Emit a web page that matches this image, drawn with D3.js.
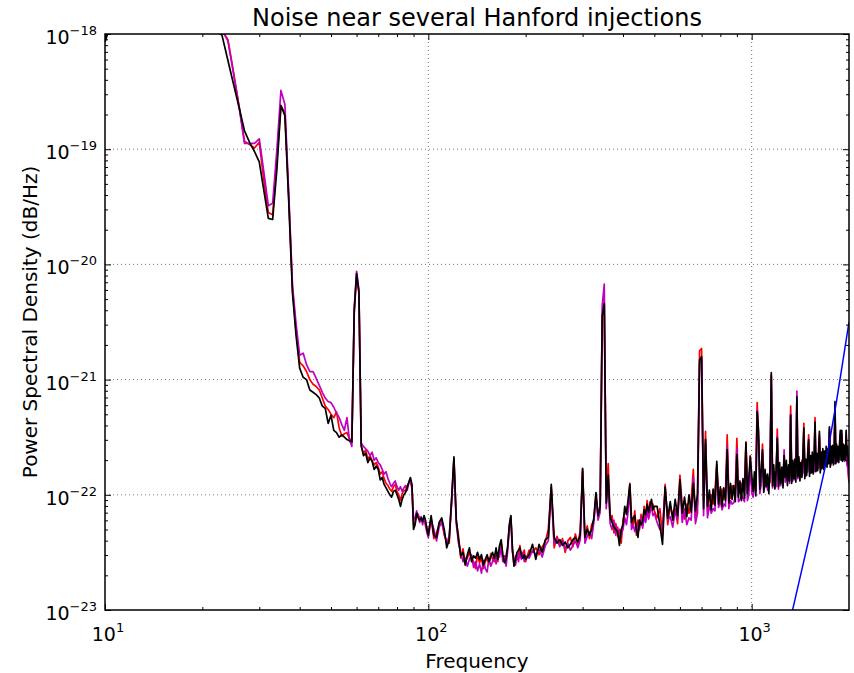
<!DOCTYPE html>
<html>
<head>
<meta charset="utf-8">
<script src="https://cdn.jsdelivr.net/npm/d3@7"></script>
<style>
  body { margin: 0; background: #fff; }
  svg { display: block; }
  text { font-family: "DejaVu Sans", sans-serif; fill: #000; }
</style>
</head>
<body>
<svg id="chart" width="854" height="673"></svg>
<script>
// Frequency bins (Hz): 1 Hz to 100, 2 Hz to 200, 5 Hz to 500, 10 Hz to 2000
const freqs = [].concat(
  d3.range(10, 101, 1),
  d3.range(102, 201, 2),
  d3.range(205, 501, 5),
  d3.range(510, 2001, 10)
);

// log10 of power spectral density, one value per frequency bin
const psdRedLog = [
  -18.05,-17.68,-17.53,-17.48,-17.50,-17.54,-17.60,-17.66,-17.72,-17.78,
  -17.84,-17.90,-17.94,-17.97,-18.05,-18.34,-18.63,-18.93,-18.96,-18.99,
  -18.94,-19.27,-19.55,-19.57,-19.10,-18.63,-18.68,-19.42,-20.21,-20.58,
  -20.85,-20.88,-20.93,-21.00,-21.04,-21.06,-21.09,-21.16,-21.23,-21.26,
  -21.30,-21.33,-21.28,-21.42,-21.49,-21.47,-21.46,-21.51,-21.54,-20.42,
  -20.09,-20.25,-21.58,-21.64,-21.61,-21.69,-21.66,-21.70,-21.74,-21.72,
  -21.76,-21.82,-21.80,-21.86,-21.90,-21.92,-21.95,-21.97,-21.93,-21.91,
  -21.97,-22.00,-22.05,-21.99,-21.96,-21.97,-21.92,-21.90,-21.87,-21.95,
  -22.26,-22.24,-22.18,-22.17,-22.21,-22.23,-22.21,-22.20,-22.25,-22.28,
  -22.33,
  -22.20,-22.38,-22.33,-22.26,-22.22,-22.35,-22.40,-22.42,-22.06,-21.69,
  -22.23,-22.36,-22.55,-22.47,-22.58,-22.55,-22.50,-22.55,-22.58,-22.64,
  -22.52,-22.59,-22.55,-22.64,-22.58,-22.55,-22.60,-22.51,-22.56,-22.58,
  -22.52,-22.58,-22.46,-22.42,-22.55,-22.56,-22.52,-22.46,-22.28,-22.19,
  -22.48,-22.60,-22.53,-22.55,-22.51,-22.44,-22.55,-22.52,-22.48,-22.58,
  -22.48,-22.50,-22.46,-22.52,-22.45,-22.41,-22.30,-21.93,-22.46,-22.36,
  -22.43,-22.38,-22.50,-22.40,-22.37,-22.45,-22.34,-22.43,-22.31,-21.78,
  -22.40,-22.27,-22.38,-22.26,-22.22,-21.99,-22.20,-22.08,-20.44,-20.33,
  -22.00,-21.73,-22.21,-22.18,-22.33,-22.25,-22.36,-22.30,-22.42,-22.22,
  -22.15,-22.12,-22.08,-21.90,-22.20,-22.28,-22.14,-22.35,-22.22,-22.30,
  -22.17,-22.27,-22.10,-22.22,-22.05,-22.19,-22.06,-22.12,-22.08,-22.14,
  -22.20,-22.12,-22.35,-21.91,-22.26,-22.10,-22.17,-22.12,-22.25,-21.83,
  -22.10,-22.21,-22.08,-22.16,-22.05,-21.78,-22.20,-22.08,-20.75,-20.73,
  -22.05,-21.45,-22.14,-22.02,-22.00,-22.08,-21.96,-21.74,-22.00,-22.06,
  -21.95,-22.04,-21.98,-21.48,-22.00,-22.03,-21.92,-21.98,-21.95,-21.51,
  -21.93,-21.99,-21.90,-21.97,-21.94,-21.54,-21.91,-21.96,-21.66,-21.92,
  -21.88,-21.95,-21.86,-21.20,-21.50,-21.86,-21.92,-21.56,-21.85,-21.90,
  -21.83,-21.92,-21.86,-21.89,-20.96,-21.82,-21.88,-21.80,-21.91,-21.43,
  -21.84,-21.89,-21.79,-21.87,-21.82,-21.70,-21.80,-21.86,-21.77,-21.85,
  -21.78,-21.23,-21.80,-21.84,-21.76,-21.83,-21.74,-21.18,-21.78,-21.82,
  -21.72,-21.81,-21.70,-21.79,-21.38,-21.75,-21.80,-21.72,-21.78,-21.48,
  -21.70,-21.79,-21.68,-21.76,-21.69,-21.77,-21.33,-21.70,-21.75,-21.66,
  -21.74,-21.50,-21.67,-21.72,-21.64,-21.71,-21.65,-21.73,-21.62,-21.70,
  -21.63,-21.71,-21.61,-21.45,-21.64,-21.70,-21.60,-21.69,-21.62,-21.68,
  -21.25,-21.61,-21.67,-21.59,-21.66,-21.60,-21.65,-21.50,-21.60,-21.49,
  -21.62,-21.66,-21.58,-21.66,-21.62,-21.48,-21.70,-21.74,-21.82,-21.90
];

const psdMagentaLog = [
  -18.04,-17.67,-17.52,-17.47,-17.49,-17.53,-17.59,-17.65,-17.71,-17.77,
  -17.83,-17.89,-17.93,-17.96,-18.06,-18.35,-18.64,-18.95,-18.95,-18.95,
  -18.91,-19.20,-19.49,-19.47,-19.01,-18.49,-18.61,-19.38,-20.18,-20.52,
  -20.79,-20.77,-20.87,-20.93,-20.93,-20.99,-21.05,-21.11,-21.16,-21.19,
  -21.20,-21.24,-21.29,-21.33,-21.39,-21.44,-21.33,-21.52,-21.58,-20.38,
  -20.06,-20.22,-21.55,-21.58,-21.60,-21.62,-21.66,-21.63,-21.70,-21.68,
  -21.72,-21.74,-21.78,-21.82,-21.80,-21.86,-21.90,-21.93,-21.90,-21.88,
  -21.93,-21.96,-21.93,-21.97,-21.94,-21.92,-21.96,-21.90,-21.88,-21.93,
  -22.22,-22.20,-22.14,-22.18,-22.24,-22.19,-22.26,-22.20,-22.27,-22.33,
  -22.37,
  -22.22,-22.30,-22.40,-22.28,-22.24,-22.33,-22.42,-22.36,-22.08,-21.70,
  -22.25,-22.42,-22.50,-22.58,-22.55,-22.62,-22.56,-22.52,-22.63,-22.58,
  -22.66,-22.60,-22.68,-22.57,-22.64,-22.67,-22.55,-22.62,-22.58,-22.52,
  -22.60,-22.50,-22.54,-22.45,-22.58,-22.53,-22.62,-22.48,-22.30,-22.20,
  -22.50,-22.57,-22.61,-22.52,-22.58,-22.50,-22.56,-22.50,-22.58,-22.53,
  -22.55,-22.48,-22.52,-22.47,-22.54,-22.44,-22.40,-21.95,-22.42,-22.38,
  -22.45,-22.40,-22.47,-22.42,-22.48,-22.44,-22.40,-22.46,-22.39,-21.80,
  -22.42,-22.36,-22.32,-22.38,-22.24,-22.02,-22.22,-22.15,-20.36,-20.17,
  -22.12,-21.88,-22.25,-22.30,-22.22,-22.35,-22.28,-22.38,-22.34,-22.30,
  -22.20,-22.26,-22.14,-21.95,-22.30,-22.26,-22.32,-22.25,-22.33,-22.28,
  -22.20,-22.29,-22.18,-22.24,-22.14,-22.21,-22.15,-22.10,-22.18,-22.16,
  -22.24,-22.30,-22.28,-21.96,-22.22,-22.19,-22.28,-22.14,-22.21,-21.92,
  -22.24,-22.12,-22.26,-22.20,-22.22,-21.85,-22.25,-22.16,-20.85,-20.82,
  -22.18,-21.55,-22.20,-22.09,-22.16,-22.12,-22.14,-21.76,-22.11,-22.05,
  -22.13,-22.08,-22.10,-21.58,-22.12,-22.05,-22.08,-22.07,-22.02,-21.60,
  -22.06,-22.04,-22.00,-22.03,-22.06,-21.58,-22.05,-22.00,-21.70,-21.98,
  -22.02,-21.93,-21.97,-21.26,-21.52,-21.99,-21.90,-21.63,-21.96,-21.93,
  -21.88,-21.96,-21.92,-21.85,-20.97,-21.94,-21.90,-21.86,-21.93,-21.49,
  -21.95,-21.86,-21.92,-21.84,-21.90,-21.61,-21.89,-21.82,-21.88,-21.83,
  -21.90,-21.30,-21.86,-21.88,-21.80,-21.87,-21.82,-21.10,-21.86,-21.80,
  -21.84,-21.78,-21.83,-21.81,-21.44,-21.82,-21.84,-21.78,-21.80,-21.54,
  -21.79,-21.81,-21.76,-21.78,-21.74,-21.80,-21.39,-21.77,-21.79,-21.72,
  -21.77,-21.48,-21.75,-21.78,-21.70,-21.75,-21.72,-21.76,-21.69,-21.74,
  -21.68,-21.73,-21.70,-21.42,-21.71,-21.74,-21.68,-21.72,-21.66,-21.73,
  -21.22,-21.67,-21.72,-21.65,-21.70,-21.64,-21.69,-21.47,-21.66,-21.47,
  -21.68,-21.70,-21.64,-21.71,-21.68,-21.46,-21.73,-21.76,-21.80,-21.88
];

const psdBlackLog = [
  -18.07,-17.70,-17.55,-17.50,-17.52,-17.56,-17.62,-17.68,-17.74,-17.80,
  -17.86,-17.92,-17.97,-18.01,-18.23,-18.44,-18.64,-18.84,-18.94,-19.02,
  -19.11,-19.36,-19.60,-19.61,-19.18,-18.62,-18.71,-19.45,-20.25,-20.62,
  -20.90,-20.98,-21.00,-21.09,-21.11,-21.13,-21.16,-21.23,-21.25,-21.38,
  -21.31,-21.44,-21.46,-21.50,-21.48,-21.50,-21.52,-21.53,-21.54,-20.40,
  -20.08,-20.24,-21.57,-21.66,-21.64,-21.72,-21.68,-21.71,-21.78,-21.75,
  -21.78,-21.87,-21.85,-21.91,-21.94,-21.97,-22.00,-22.02,-21.97,-21.96,
  -22.00,-22.04,-22.10,-22.04,-22.00,-21.98,-21.94,-21.89,-21.85,-21.91,
  -22.30,-22.26,-22.16,-22.20,-22.22,-22.20,-22.23,-22.18,-22.22,-22.30,
  -22.35,
  -22.18,-22.35,-22.37,-22.24,-22.20,-22.30,-22.46,-22.39,-22.04,-21.67,
  -22.21,-22.39,-22.53,-22.50,-22.61,-22.52,-22.46,-22.58,-22.53,-22.55,
  -22.50,-22.56,-22.52,-22.61,-22.56,-22.52,-22.58,-22.54,-22.50,-22.55,
  -22.46,-22.56,-22.44,-22.39,-22.52,-22.59,-22.56,-22.44,-22.26,-22.18,
  -22.46,-22.62,-22.56,-22.50,-22.48,-22.46,-22.52,-22.55,-22.52,-22.56,
  -22.52,-22.43,-22.56,-22.43,-22.50,-22.39,-22.37,-21.91,-22.37,-22.42,
  -22.39,-22.44,-22.41,-22.46,-22.43,-22.39,-22.37,-22.41,-22.35,-21.77,
  -22.37,-22.30,-22.35,-22.30,-22.20,-21.98,-22.18,-22.10,-20.45,-20.34,
  -22.07,-21.83,-22.19,-22.24,-22.28,-22.30,-22.32,-22.44,-22.30,-22.26,
  -22.10,-22.17,-22.04,-21.91,-22.24,-22.20,-22.18,-22.30,-22.37,-22.22,
  -22.26,-22.23,-22.13,-22.17,-22.08,-22.15,-22.09,-22.04,-22.13,-22.10,
  -22.10,-22.26,-22.43,-21.93,-22.20,-22.06,-22.22,-22.04,-22.18,-21.87,
  -22.16,-22.02,-22.19,-22.00,-22.15,-21.90,-22.14,-21.99,-20.83,-20.80,
  -22.12,-21.52,-22.10,-21.96,-22.13,-21.95,-22.09,-21.71,-22.08,-21.93,
  -22.10,-21.94,-22.05,-21.61,-22.07,-21.90,-22.04,-21.92,-22.06,-21.65,
  -22.02,-21.88,-22.05,-21.86,-22.03,-21.55,-21.99,-21.86,-21.67,-21.82,
  -21.97,-21.80,-22.01,-21.28,-21.44,-21.95,-21.79,-21.61,-21.98,-21.78,
  -21.93,-21.82,-21.99,-21.76,-20.94,-21.92,-21.74,-21.95,-21.79,-21.51,
  -21.93,-21.72,-21.90,-21.76,-21.94,-21.66,-21.85,-21.70,-21.92,-21.74,
  -21.88,-21.31,-21.90,-21.70,-21.86,-21.69,-21.89,-21.15,-21.84,-21.67,
  -21.88,-21.72,-21.85,-21.66,-21.42,-21.86,-21.69,-21.83,-21.65,-21.52,
  -21.84,-21.66,-21.81,-21.63,-21.82,-21.67,-21.37,-21.80,-21.64,-21.79,
  -21.62,-21.45,-21.81,-21.63,-21.77,-21.60,-21.78,-21.62,-21.74,-21.58,
  -21.76,-21.60,-21.73,-21.41,-21.76,-21.58,-21.72,-21.57,-21.74,-21.60,
  -21.19,-21.73,-21.56,-21.71,-21.58,-21.72,-21.55,-21.44,-21.70,-21.44,
  -21.71,-21.56,-21.69,-21.57,-21.70,-21.44,-21.66,-21.58,-21.74,-21.77
];

// Injected-signal curve (blue), sampled at its own frequencies
const blueFreqs = [1300, 1338, 1400, 1476, 1580, 1682, 1750, 1827, 1910, 2000];
const blueLog = [-23.35, -23.00, -22.76, -22.48, -22.12, -21.78, -21.50, -21.20, -20.86, -20.50];

// Axis ticks
const xMajor = [10, 100, 1000];
const xMajorExp = ["1", "2", "3"];
const xMinor = [20, 30, 40, 50, 60, 70, 80, 90, 200, 300, 400, 500, 600, 700, 800, 900];
const yMajorExp = [-23, -22, -21, -20, -19, -18];
const yMinorMant = [2, 3, 4, 5, 6, 7, 8, 9];

const title = "Noise near several Hanford injections";
const xLabel = "Frequency";
const yLabel = "Power Spectral Density (dB/Hz)";

const svg = d3.select("#chart");
const m = { l: 105, r: 849, t: 34, b: 610 };

const x = d3.scaleLog().domain([10, 2000]).range([m.l, m.r]);
const y = d3.scaleLog().domain([1e-23, 1e-18]).range([m.b, m.t]);

const yMajor = yMajorExp.map(e => Math.pow(10, e));
const yMinor = [];
yMajorExp.slice(0, -1).forEach(e => yMinorMant.forEach(k => yMinor.push(k * Math.pow(10, e))));

svg.append("defs").append("clipPath").attr("id", "plotClip")
  .append("rect").attr("x", m.l).attr("y", m.t)
  .attr("width", m.r - m.l).attr("height", m.b - m.t);

// dotted grid at decades
const grid = svg.append("g").attr("stroke", "#000").attr("stroke-width", 1)
  .attr("stroke-dasharray", "1,3").attr("opacity", 0.55);
grid.selectAll("line.gx").data(xMajor.filter(v => v > 10)).join("line")
  .attr("x1", d => x(d)).attr("x2", d => x(d)).attr("y1", m.t).attr("y2", m.b);
grid.selectAll("line.gy").data(yMajor.filter(v => v > 1e-23 && v < 1e-18)).join("line")
  .attr("y1", d => y(d)).attr("y2", d => y(d)).attr("x1", m.l).attr("x2", m.r);

// spectra
const line = d3.line().x(d => x(d[0])).y(d => y(d[1])).curve(d3.curveLinear);
const series = [
  { vals: psdRedLog, color: "#ff0000" },
  { vals: psdMagentaLog, color: "#bf00bf" },
  { vals: psdBlackLog, color: "#000000" }
];
const plot = svg.append("g").attr("clip-path", "url(#plotClip)");
series.forEach(s => {
  const pts = freqs.map((f, i) => [f, Math.pow(10, s.vals[i])]).filter(p => isFinite(p[1]));
  plot.append("path").datum(pts).attr("d", line)
    .attr("fill", "none").attr("stroke", s.color)
    .attr("stroke-width", 1.7).attr("stroke-linejoin", "round");
});
plot.append("path")
  .datum(blueFreqs.map((f, i) => [f, Math.pow(10, blueLog[i])]))
  .attr("d", line).attr("fill", "none").attr("stroke", "#0000ff").attr("stroke-width", 1.5);

// inward ticks on all four sides
function ticks(axisFn, scale, values, size, transform) {
  const g = svg.append("g").attr("transform", transform)
    .call(axisFn(scale).tickValues(values).tickSize(size).tickFormat(""));
  g.select(".domain").remove();
  g.selectAll("line").attr("stroke", "#000").attr("stroke-width", 1);
}
ticks(d3.axisBottom, x, xMajor, -6, `translate(0,${m.b})`);
ticks(d3.axisBottom, x, xMinor, -3, `translate(0,${m.b})`);
ticks(d3.axisTop, x, xMajor, -6, `translate(0,${m.t})`);
ticks(d3.axisTop, x, xMinor, -3, `translate(0,${m.t})`);
ticks(d3.axisLeft, y, yMajor, -6, `translate(${m.l},0)`);
ticks(d3.axisLeft, y, yMinor, -3, `translate(${m.l},0)`);
ticks(d3.axisRight, y, yMajor, -6, `translate(${m.r},0)`);
ticks(d3.axisRight, y, yMinor, -3, `translate(${m.r},0)`);

// frame
svg.append("rect").attr("x", m.l).attr("y", m.t)
  .attr("width", m.r - m.l).attr("height", m.b - m.t)
  .attr("fill", "none").attr("stroke", "#000").attr("stroke-width", 1.5);

// tick labels with superscript exponents
xMajor.forEach((v, i) => {
  const t = svg.append("text").attr("x", x(v) + 3).attr("y", 641)
    .attr("text-anchor", "middle").attr("font-size", 19);
  t.append("tspan").text("10");
  t.append("tspan").attr("dy", -9).attr("font-size", 13).text(xMajorExp[i]);
});
yMajorExp.forEach(e => {
  const t = svg.append("text").attr("x", 97).attr("y", y(Math.pow(10, e)) + 10)
    .attr("text-anchor", "end").attr("font-size", 19);
  t.append("tspan").text("10");
  t.append("tspan").attr("dy", -9).attr("font-size", 13).text("\u2212" + Math.abs(e));
});

// titles
svg.append("text").attr("x", (m.l + m.r) / 2).attr("y", 26)
  .attr("text-anchor", "middle").attr("font-size", 24).text(title);
svg.append("text").attr("x", (m.l + m.r) / 2).attr("y", 668)
  .attr("text-anchor", "middle").attr("font-size", 20).text(xLabel);
svg.append("text").attr("transform", `translate(37,${(m.t + m.b) / 2}) rotate(-90)`)
  .attr("text-anchor", "middle").attr("font-size", 20).text(yLabel);
</script>
</body>
</html>
